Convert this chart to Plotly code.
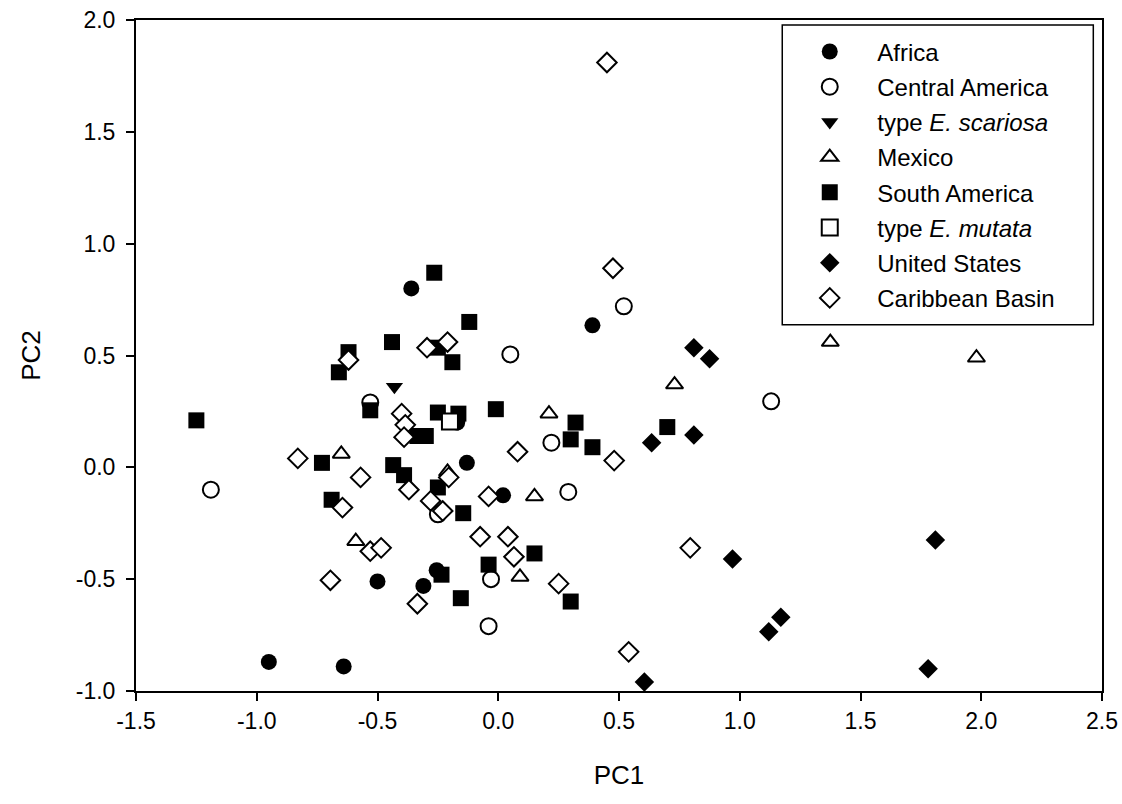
import plotly.graph_objects as go

# ---- data ----
africa_x = [-0.36, 0.39, -0.13, 0.02, -0.17, -0.50, -0.31, -0.255, -0.95, -0.64]
africa_y = [0.80, 0.635, 0.02, -0.125, 0.20, -0.51, -0.53, -0.46, -0.87, -0.89]

central_x = [0.52, 0.05, -0.53, 1.13, 0.22, -1.19, 0.29, -0.25, -0.03, -0.04]
central_y = [0.72, 0.505, 0.29, 0.295, 0.11, -0.10, -0.11, -0.21, -0.50, -0.71]

scariosa_x = [-0.43]
scariosa_y = [0.36]

mexico_x = [1.375, 1.98, 0.73, 0.21, -0.65, 0.15, -0.21, -0.59, 0.09]
mexico_y = [0.56, 0.49, 0.37, 0.24, 0.06, -0.13, -0.02, -0.33, -0.49]

south_x = [-1.25, -0.265, -0.12, -0.62, -0.66, -0.44, -0.19, -0.25, -0.53, -0.25,
           -0.165, -0.01, -0.335, -0.30, -0.73, -0.435, -0.39, -0.69, -0.25, -0.145,
           -0.04, 0.15, -0.235, -0.155, 0.32, 0.30, 0.39, 0.70, 0.30]
south_y = [0.21, 0.87, 0.65, 0.515, 0.425, 0.56, 0.47, 0.535, 0.255, 0.245,
           0.24, 0.26, 0.14, 0.14, 0.02, 0.01, -0.035, -0.145, -0.09, -0.205,
           -0.435, -0.385, -0.48, -0.585, 0.20, 0.125, 0.09, 0.18, -0.60]

mutata_x = [-0.20]
mutata_y = [0.205]

us_x = [0.81, 0.875, 0.635, 0.81, 0.97, 1.17, 1.12, 0.605, 1.81, 1.78]
us_y = [0.535, 0.485, 0.11, 0.145, -0.41, -0.67, -0.735, -0.96, -0.325, -0.90]

carib_x = [0.45, 0.475, 0.48, -0.62, -0.295, -0.21, -0.40, -0.385, -0.39, 0.08,
           -0.83, -0.57, -0.37, -0.205, -0.28, -0.23, -0.645, -0.04, -0.075, 0.04,
           0.065, -0.53, -0.485, -0.695, -0.335, 0.25, 0.795, 0.54]
carib_y = [1.81, 0.89, 0.03, 0.48, 0.535, 0.56, 0.24, 0.19, 0.135, 0.07,
           0.04, -0.045, -0.10, -0.045, -0.15, -0.195, -0.18, -0.13, -0.31, -0.31,
           -0.40, -0.375, -0.36, -0.505, -0.61, -0.52, -0.36, -0.825]

x_ticks = [-1.5, -1.0, -0.5, 0.0, 0.5, 1.0, 1.5, 2.0, 2.5]
y_ticks = [-1.0, -0.5, 0.0, 0.5, 1.0, 1.5, 2.0]

series = [
    ("Africa", africa_x, africa_y, "circle", 16, True),
    ("Central America", central_x, central_y, "circle", 16, False),
    ("type <i>E. scariosa</i>", scariosa_x, scariosa_y, "triangle-down", 15, True),
    ("Mexico", mexico_x, mexico_y, "triangle-up", 15, False),
    ("South America", south_x, south_y, "square", 16, True),
    ("type <i>E. mutata</i>", mutata_x, mutata_y, "square", 16, False),
    ("United States", us_x, us_y, "diamond", 15, True),
    ("Caribbean Basin", carib_x, carib_y, "diamond", 15, False),
]

fig = go.Figure()
for i, (name, xs, ys, sym, size, filled) in enumerate(series):
    fig.add_trace(go.Scatter(
        x=xs, y=ys, mode="markers", name=name, legendgroup=f"g{i}",
        marker=dict(
            symbol=sym, size=size,
            color="black" if filled else "white",
            line=dict(color="black", width=0 if filled else 2),
        ),
    ))

FONT = "Liberation Sans, Arial, sans-serif"
axis_common = dict(
    showline=True, linecolor="black", linewidth=2, mirror=True,
    ticks="outside", ticklen=8, tickwidth=1.5, tickcolor="black",
    showgrid=False, zeroline=False, automargin=False,
    ticklabeloverflow="allow",
    tickfont=dict(family=FONT, size=23, color="black"),
)

# legend frame (drawn as a shape so the box can be sized like the original)
fig.add_shape(
    type="rect", xref="paper", yref="paper",
    x0=0.669, x1=0.991, y0=0.546, y1=0.9925,
    fillcolor="white", line=dict(color="black", width=1.5), layer="above",
)

fig.update_layout(
    width=1122, height=804,
    margin=dict(l=136, r=20, t=20, b=113),
    paper_bgcolor="white", plot_bgcolor="white",
    font=dict(family=FONT, color="black"),
    xaxis=dict(range=[-1.5, 2.5], tickvals=x_ticks,
               ticktext=[f"{v:.1f}" for v in x_ticks],
               title=dict(text="PC1", font=dict(size=26), standoff=33),
               **axis_common),
    yaxis=dict(range=[-1.0, 2.0], tickvals=y_ticks,
               ticktext=[f"{v:.1f}" for v in y_ticks],
               ticklabelstandoff=6,
               title=dict(text="PC2", font=dict(size=26), standoff=28),
               **axis_common),
    legend=dict(
        x=0.669, y=0.986, xanchor="left", yanchor="top",
        bgcolor="rgba(0,0,0,0)", borderwidth=0,
        font=dict(family=FONT, size=24, color="black"),
        traceorder="grouped", tracegroupgap=1,
        itemwidth=85,
    ),
    showlegend=True,
)

fig.write_html(
    "out.html",
    config={"displayModeBar": False},
    post_script="document.body.style.margin='0';document.body.style.overflow='hidden';",
)
